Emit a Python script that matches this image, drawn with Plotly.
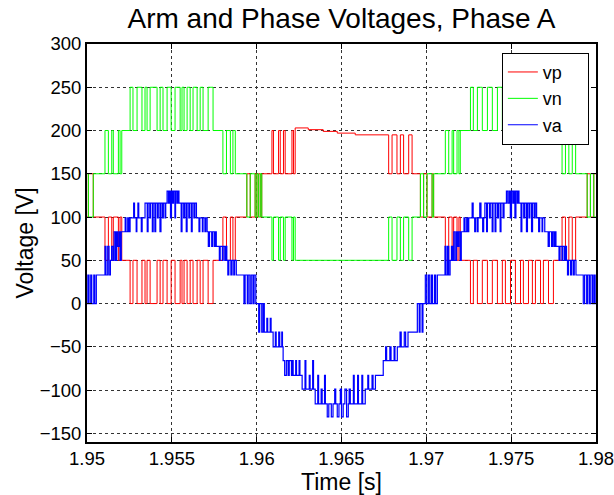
import plotly.graph_objects as go

FONT = "Liberation Sans, Arial, sans-serif"
T0 = 1.95  # s, start of the displayed window

# Arm voltages: (switching instant in ms after T0, vp [V], vn [V]) ; step held until next instant
arm_steps = [
    (0.00, 100, 150), (0.08, 150, 100), (0.37, 100, 150),
    (1.06, 50, 200), (1.26, 100, 150), (1.46, 50, 200), (1.55, 100, 150), (1.85, 50, 200), (1.95, 100, 150), (2.05, 50, 200),
    (2.54, 0, 250), (2.71, 50, 200), (2.95, 0, 250), (3.24, 50, 200), (3.42, 0, 250), (3.54, 50, 200),
    (3.72, 0, 250), (4.13, 50, 200), (4.31, 0, 250), (4.48, 50, 200), (4.72, 0, 250), (4.96, 50, 200),
    (5.19, 0, 250), (5.49, 50, 200), (5.60, 0, 250), (5.72, 50, 200), (5.90, 0, 250), (6.08, 50, 200),
    (6.25, 0, 250), (6.49, 50, 200), (6.67, 0, 250), (6.84, 50, 200), (7.14, 0, 250), (7.43, 50, 200),
    (8.01, 100, 150), (8.22, 50, 200), (8.45, 100, 150), (8.60, 50, 200), (8.74, 100, 150),
    (9.42, 150, 100), (9.62, 100, 150), (9.91, 150, 100), (10.01, 100, 150), (10.10, 150, 100), (10.21, 100, 150), (10.30, 150, 100),
    (10.90, 200, 50), (10.99, 150, 100), (11.29, 200, 50), (11.39, 150, 100), (11.58, 200, 50), (11.68, 150, 100),
    (12.08, 200, 50), (12.17, 150, 100), (12.27, 203, 50),
    (13.04, 201, 50), (13.92, 199, 50), (14.75, 197, 50), (15.81, 195, 50),
    (17.78, 150, 100), (17.98, 195, 50), (18.27, 150, 100), (18.47, 195, 50), (18.66, 150, 100), (18.96, 195, 50), (19.16, 150, 100),
    (19.65, 100, 150), (19.84, 150, 100), (20.04, 100, 150), (20.34, 150, 100), (20.43, 100, 150),
    (21.12, 50, 200), (21.32, 100, 150), (21.52, 50, 200), (21.61, 100, 150), (21.81, 50, 200), (21.92, 100, 150), (22.00, 50, 200),
    (22.60, 0, 250), (22.77, 50, 200), (23.01, 0, 250), (23.30, 50, 200), (23.60, 0, 250), (23.89, 50, 200),
    (24.19, 0, 250), (24.48, 50, 200), (24.66, 0, 250), (24.96, 50, 200), (25.25, 0, 250), (25.55, 50, 200),
    (25.72, 0, 250), (26.02, 50, 200), (26.25, 0, 250), (26.43, 50, 200), (26.73, 0, 250), (26.90, 50, 200),
    (27.20, 0, 250), (27.49, 50, 200),
    (28.00, 100, 150), (28.20, 50, 200), (28.40, 100, 150), (28.60, 50, 200), (28.80, 100, 150),
    (29.48, 150, 100), (29.67, 100, 150), (29.87, 150, 100), (30.00, 150, 100),
]

# Phase voltage va: (instant in ms after T0, va [V])
va_steps = [
    (0.00, 0), (0.05, 33), (0.12, 0), (0.22, 33), (0.28, 0), (0.40, 33), (0.46, 0), (0.55, 33),
    (1.06, 66), (1.12, 33), (1.22, 66), (1.30, 33), (1.38, 50), (1.45, 66),
    (1.53, 50), (1.60, 83), (1.68, 50), (1.75, 83), (1.80, 66), (1.88, 83), (1.95, 50), (2.02, 83),
    (2.25, 99), (2.30, 83), (2.40, 99), (2.44, 83), (2.48, 99), (2.50, 83),
    (2.54, 99), (2.75, 116), (2.80, 99), (2.90, 83), (2.94, 99), (3.00, 116), (3.05, 99), (3.20, 83), (3.25, 99),
    (3.42, 116), (3.55, 83), (3.60, 116), (3.70, 99), (3.74, 116), (3.85, 83), (3.90, 116), (4.00, 83), (4.05, 116),
    (4.15, 99), (4.20, 116), (4.30, 83), (4.36, 116), (4.45, 99), (4.50, 116), (4.60, 99), (4.64, 116),
    (4.72, 130), (4.80, 116), (4.86, 130), (4.92, 99), (4.98, 130), (5.05, 116), (5.10, 130), (5.18, 99),
    (5.22, 130), (5.30, 116), (5.36, 130), (5.42, 116),
    (5.55, 83), (5.60, 116), (5.70, 99), (5.76, 116), (5.85, 83), (5.90, 116), (6.00, 99), (6.05, 116),
    (6.15, 83), (6.20, 116), (6.30, 99), (6.36, 116), (6.45, 99),
    (6.60, 83), (6.65, 99), (6.80, 83), (6.84, 99), (6.95, 83), (7.00, 99),
    (7.08, 83), (7.15, 66), (7.22, 83), (7.35, 66), (7.40, 83), (7.50, 66), (7.55, 83), (7.62, 66),
    (7.80, 50), (7.85, 66), (7.98, 50), (8.02, 66), (8.12, 50), (8.18, 66), (8.24, 50),
    (8.30, 33), (8.36, 50), (8.48, 33), (8.55, 50), (8.65, 33), (8.70, 50), (8.80, 33),
    (9.25, 0), (9.32, 33), (9.45, 0), (9.50, 33), (9.60, 0), (9.68, 33), (9.78, 0), (9.85, 33), (9.95, 0),
    (10.12, -33), (10.18, 0), (10.30, -33), (10.38, 0), (10.45, -33),
    (10.60, -17), (10.65, -33), (10.80, -17), (10.85, -33),
    (10.97, -50), (11.10, -33), (11.15, -50), (11.30, -33), (11.36, -50), (11.48, -33), (11.52, -50),
    (11.56, -66), (11.65, -83), (11.75, -66), (11.85, -83), (11.92, -66), (12.05, -83), (12.10, -66),
    (12.15, -83), (12.30, -66), (12.35, -83), (12.50, -66), (12.55, -83),
    (12.68, -99), (12.85, -66), (12.90, -99), (13.10, -83), (13.15, -99), (13.30, -66), (13.35, -99),
    (13.45, -116), (13.60, -83), (13.65, -116), (13.80, -99), (13.86, -116), (14.00, -83), (14.05, -116),
    (14.16, -131), (14.25, -116), (14.40, -131), (14.50, -116), (14.60, -99), (14.66, -116), (14.75, -131), (14.85, -116),
    (14.93, -99), (15.00, -131), (15.10, -116), (15.20, -99), (15.30, -131), (15.40, -116), (15.45, -99),
    (15.52, -116), (15.70, -83), (15.75, -116), (15.95, -83), (16.00, -116), (16.20, -83), (16.25, -116),
    (16.40, -99), (16.55, -83), (16.60, -99), (16.80, -83), (16.86, -99), (17.00, -83),
    (17.46, -66), (17.60, -50), (17.66, -66), (17.85, -50), (17.92, -66), (18.10, -50), (18.15, -66),
    (18.29, -50), (18.45, -33), (18.52, -50), (18.70, -33), (18.78, -50), (18.92, -33),
    (19.47, 0), (19.58, -33), (19.63, 0), (19.75, -33), (19.80, 0),
    (19.94, 33), (20.02, 0), (20.12, 33), (20.20, 0), (20.30, 33), (20.36, 0), (20.48, 33), (20.55, 0), (20.65, 33),
    (21.10, 66), (21.16, 33), (21.25, 66), (21.32, 33), (21.40, 50), (21.48, 66),
    (21.55, 50), (21.62, 83), (21.70, 50), (21.78, 83), (21.85, 66), (21.92, 83), (22.00, 50), (22.06, 83),
    (22.22, 99), (22.28, 83), (22.38, 99), (22.44, 83), (22.50, 99),
    (22.70, 116), (22.76, 99), (22.85, 83), (22.90, 99), (23.00, 83), (23.05, 99), (23.15, 116), (23.22, 99), (23.32, 83), (23.38, 99),
    (23.45, 116), (23.55, 83), (23.60, 116), (23.72, 99), (23.77, 116), (23.88, 83), (23.93, 116), (24.05, 83), (24.10, 116),
    (24.20, 99), (24.25, 116), (24.35, 83), (24.40, 116), (24.52, 99), (24.58, 116),
    (24.72, 130), (24.80, 116), (24.88, 130), (24.95, 99), (25.02, 130), (25.10, 116), (25.15, 130), (25.22, 99),
    (25.28, 130), (25.36, 116), (25.42, 130), (25.46, 116),
    (25.58, 83), (25.63, 116), (25.74, 99), (25.80, 116), (25.90, 83), (25.96, 116), (26.05, 99), (26.10, 116),
    (26.20, 83), (26.26, 116), (26.36, 99), (26.42, 116),
    (26.50, 99), (26.62, 83), (26.68, 99), (26.82, 83), (26.86, 99), (26.98, 83),
    (27.10, 83), (27.18, 66), (27.25, 83), (27.38, 66), (27.44, 83), (27.52, 66), (27.58, 83), (27.64, 66),
    (27.82, 50), (27.88, 66), (28.00, 50), (28.05, 66), (28.15, 50), (28.20, 66), (28.26, 50),
    (28.32, 33), (28.38, 50), (28.50, 33), (28.56, 50), (28.66, 33), (28.72, 50), (28.82, 33),
    (29.25, 0), (29.33, 33), (29.45, 0), (29.52, 33), (29.62, 0), (29.70, 33), (29.80, 0), (29.88, 33), (29.95, 0),
    (30.00, 0),
]

series_names = ["vp", "vn", "va"]
x_tick_vals = [1.95, 1.955, 1.96, 1.965, 1.97, 1.975, 1.98]
x_tick_text = ["1.95", "1.955", "1.96", "1.965", "1.97", "1.975", "1.98"]
y_tick_vals = [-150, -100, -50, 0, 50, 100, 150, 200, 250, 300]

t_arm = [T0 + s[0] / 1000.0 for s in arm_steps]
vp = [s[1] for s in arm_steps]
vn = [s[2] for s in arm_steps]
t_va = [T0 + s[0] / 1000.0 for s in va_steps]
va = [s[1] for s in va_steps]

PAD = "\u00a0" * 4  # widen legend box like the reference

fig = go.Figure()
fig.add_trace(go.Scatter(x=t_arm, y=vp, mode="lines", name=series_names[0] + PAD,
                         line=dict(color="#ff0000", width=1, shape="hv")))
fig.add_trace(go.Scatter(x=t_arm, y=vn, mode="lines", name=series_names[1] + PAD,
                         line=dict(color="#00ff00", width=1, shape="hv")))
fig.add_trace(go.Scatter(x=t_va, y=va, mode="lines", name=series_names[2] + PAD,
                         line=dict(color="#0000ff", width=1.2, shape="hv")))

axis_common = dict(
    showgrid=True, gridcolor="#333333", gridwidth=1, griddash="3px,3px",
    showline=True, linecolor="black", linewidth=2, mirror="ticks",
    ticks="inside", ticklen=5, tickcolor="black", tickwidth=1,
    zeroline=False, automargin=False, ticklabeloverflow="allow",
    tickfont=dict(family=FONT, size=18.5, color="black"),
)

fig.update_xaxes(range=[1.95, 1.98], tickvals=x_tick_vals, ticktext=x_tick_text,
                 title=dict(text="Time [s]", font=dict(family=FONT, size=23, color="black"), standoff=10),
                 ticklabelstandoff=-1, **axis_common)
fig.update_yaxes(range=[-160, 300], tickvals=y_tick_vals,
                 title=dict(text="Voltage [V]", font=dict(family=FONT, size=23, color="black"), standoff=0),
                 ticklabelstandoff=0, **axis_common)

fig.update_layout(
    width=614, height=495,
    margin=dict(l=87, r=18, t=44, b=53),
    paper_bgcolor="white", plot_bgcolor="white",
    font=dict(family=FONT, color="black"),
    title=dict(text="Arm and Phase Voltages, Phase A", x=0.5, xref="paper", xanchor="center",
               y=1 - 18 / 495, yref="container", yanchor="middle",
               font=dict(family=FONT, size=28, color="black")),
    showlegend=True,
    legend=dict(x=0.986, xanchor="right", y=0.978, yanchor="top",
                bgcolor="white", bordercolor="black", borderwidth=1,
                font=dict(family=FONT, size=18, color="black")),
)

fig.write_html("out.html")
